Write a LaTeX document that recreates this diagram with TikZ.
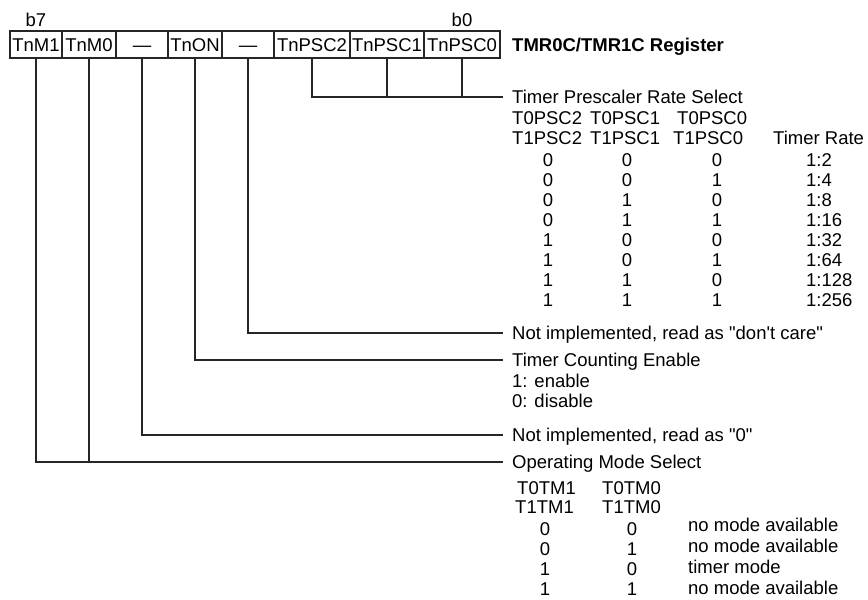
\documentclass[tikz,border=0pt]{standalone}
\usepackage{fontspec}
\setmainfont{Liberation Sans}[Ligatures=TeXOff]
\begin{document}
\begin{tikzpicture}[x=1pt,y=-1pt,
  txt/.style={inner sep=0pt, text height=13.3pt, text depth=0pt, font=\fontsize{18.5}{20}\selectfont},
  lbl/.style={txt, anchor=west},
  val/.style={txt, anchor=center},
  cell/.style={draw=black!85, line width=1.3pt, inner sep=0pt, minimum height=27pt,
    text height=13.3pt, text depth=0pt, font=\fontsize{18.5}{20}\selectfont},
  conn/.style={line width=1.3pt, draw=black!85}]
\useasboundingbox (0,0) rectangle (868,600);

% register cells
\node[cell, minimum width=52pt] (c7) at (36,44.5) {TnM1};
\node[cell, minimum width=54pt] (c6) at (89,44.5) {TnM0};
\node[cell, minimum width=52pt] (c5) at (142,44.5) {—};
\node[cell, minimum width=54pt] (c4) at (195,44.5) {TnON};
\node[cell, minimum width=52pt] (c3) at (248,44.5) {—};
\node[cell, minimum width=76pt] (c2) at (312,44.5) {TnPSC2};
\node[cell, minimum width=74pt] (c1) at (387,44.5) {TnPSC1};
\node[cell, minimum width=76pt] (c0) at (462,44.5) {TnPSC0};
\node[val] (b7) at (36,20) {b7};
\node[val] (b0) at (462,20) {b0};
\node[lbl] (reg) at (512,44.5) {\bfseries TMR0C/TMR1C Register};

% prescaler
\node[lbl] (tprs) at (512,97) {Timer Prescaler Rate Select};
\node[lbl] (ha1) at (512,118) {T0PSC2};
\node[lbl] (ha2) at (590,118) {T0PSC1};
\node[lbl] (ha3) at (677,118) {T0PSC0};
\node[lbl] (hb1) at (512,138) {T1PSC2};
\node[lbl] (hb2) at (590,138) {T1PSC1};
\node[lbl] (hb3) at (673,138) {T1PSC0};
\node[lbl] (hb4) at (773,138) {Timer Rate};
\foreach \a/\b/\c/\r [count=\i from 0] in {0/0/0/2,0/0/1/4,0/1/0/8,0/1/1/16,1/0/0/32,1/0/1/64,1/1/0/128,1/1/1/256}{
  \node[val] (pa\i) at (548,160+20*\i) {\a};
  \node[val] (pb\i) at (627,160+20*\i) {\b};
  \node[val] (pc\i) at (717,160+20*\i) {\c};
  \node[lbl] (pr\i) at (806,160+20*\i) {1:\r};
}

% other labels
\node[lbl] (dc) at (512,333) {Not implemented, read as "don't care"};
\node[lbl] (tce) at (512,360) {Timer Counting Enable};
\node[lbl] (en) at (512,381) {1: enable};
\node[lbl] (dis) at (512,401) {0: disable};
\node[lbl] (ni0) at (512,435) {Not implemented, read as "0"};
\node[lbl] (oms) at (512,462) {Operating Mode Select};
\node[lbl] (ma1) at (517,488) {T0TM1};
\node[lbl] (ma2) at (602,488) {T0TM0};
\node[lbl] (mb1) at (515,507) {T1TM1};
\node[lbl] (mb2) at (602,507) {T1TM0};
\foreach \a/\b/\d [count=\i from 0] in {0/0/no mode available,0/1/no mode available,1/0/timer mode,1/1/no mode available}{
  \node[val] (ma\i) at (545,529+20*\i) {\a};
  \node[val] (mb\i) at (632,529+20*\i) {\b};
  \node[lbl] (md\i) at (688,525+21*\i) {\d};
}

% connectors
\draw[conn] (c2.south) |- ([xshift=-9pt]tprs.west);
\draw[conn] (c1.south) -- (c1.south |- tprs.west);
\draw[conn] (c0.south) -- (c0.south |- tprs.west);
\draw[conn] (c3.south) |- ([xshift=-9pt]dc.west);
\draw[conn] (c4.south) |- ([xshift=-9pt]tce.west);
\draw[conn] (c5.south) |- ([xshift=-9pt]ni0.west);
\draw[conn] (c7.south) |- ([xshift=-9pt]oms.west);
\draw[conn] (c6.south) -- (c6.south |- oms.west);
\end{tikzpicture}
\end{document}
